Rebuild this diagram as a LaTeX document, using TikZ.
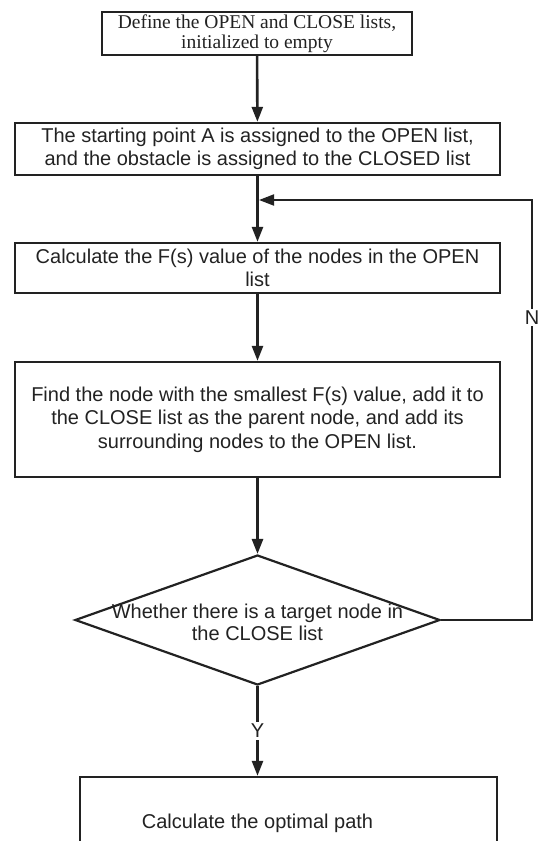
\documentclass[tikz,border=0pt]{standalone}
\usepackage{fontspec}
\setmainfont{Liberation Sans}
\newfontfamily\timesfont{Liberation Serif}
\usepackage{xcolor}
\usepackage{tikz}
\usetikzlibrary{shapes.geometric, arrows.meta}
\definecolor{ink}{HTML}{222222}

\begin{document}
\begin{tikzpicture}[x=1pt, y=-1pt,
    box/.style={rectangle, draw=ink, line width=2.4pt, minimum width=485pt, align=center, inner sep=0pt, text=ink, font=\fontsize{20}{23.5}\selectfont},
    decision/.style={diamond, draw=ink, line width=2.2pt, minimum width=365pt, minimum height=130pt, inner sep=0pt},
    inside/.style={align=center, inner sep=0pt, text=ink, font=\fontsize{20}{22}\selectfont},
    arrow/.style={-{Triangle[length=15pt, width=11pt]}, line width=2.6pt, ink},
    loop/.style={-{Triangle[length=15pt, width=11pt]}, line width=1.9pt, ink},
    tag/.style={fill=white, inner sep=2pt, text=ink, font=\fontsize{20}{23.5}\selectfont}
  ]

    \useasboundingbox (0,0) rectangle (540,841);

    \node[box, minimum width=310pt, minimum height=43pt, font=\timesfont\fontsize{19.5}{20.5}\selectfont] (define) at (257,33.5) {Define the OPEN and CLOSE lists,\\initialized to empty};
    \node[box, minimum height=52pt] (init) at (257.5,149) {The starting point A is assigned to the OPEN list,\\and the obstacle is assigned to the CLOSED list};
    \node[box, minimum height=50pt] (calc) at (257.5,268) {Calculate the F(s) value of the nodes in the OPEN\\list};
    \node[box, minimum height=115pt] (select) at (257.5,419.5) {Find the node with the smallest F(s) value, add it to\\the CLOSE list as the parent node, and add its\\surrounding nodes to the OPEN list.};
    \node[decision, label={[inside, yshift=-2pt]center:Whether there is a target node in\\the CLOSE list}] (check) at (257.5,620) {};
    \node[box, minimum width=417pt, minimum height=110pt, label={[inside, xshift=-31pt, yshift=9pt]center:Calculate the optimal path}] (path) at (288.5,832) {};

    \coordinate (merge) at (259,200);

    \draw[arrow] (define) -- (init);
    \draw[arrow] (init) -- (calc);
    \draw[arrow] (calc) -- (select);
    \draw[arrow] (select) -- (check);
    \draw[arrow] (check) -- node[tag] {Y} (check |- path.north);
    \draw[loop] (check.east) -- ++(91,0) |- node[tag, pos=0.36] {N} (merge);

  \end{tikzpicture}
\end{document}
